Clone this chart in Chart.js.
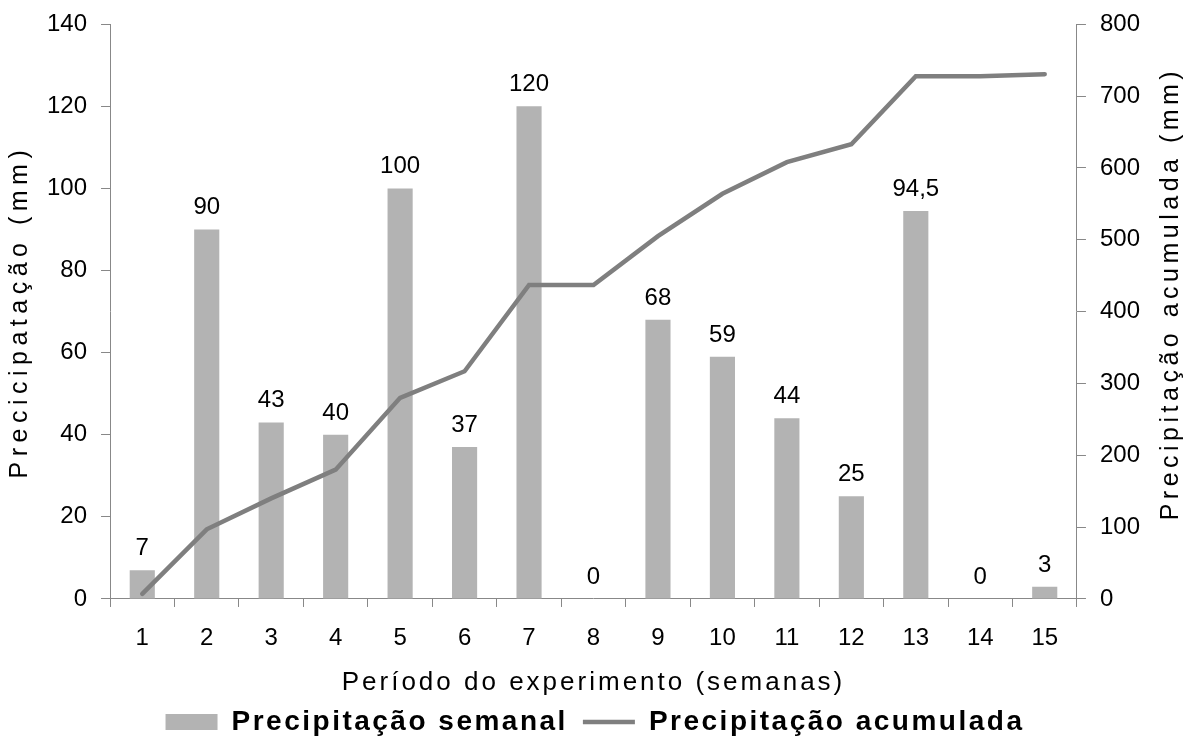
<!DOCTYPE html>
<html>
<head>
  <title>Precipitação semanal e acumulada</title>
  <script src="https://cdn.jsdelivr.net/npm/chart.js"></script>
  <style>
    html, body { margin: 0; padding: 0; background: #fff; }
    #wrap { width: 1187px; height: 742px; }
  </style>
</head>
<body>
  <div id="wrap">
    <canvas id="rainChart" width="1187" height="742"></canvas>
  </div>

  <script>
    // weeks of the experiment
    const weeks = ['1', '2', '3', '4', '5', '6', '7', '8', '9', '10', '11', '12', '13', '14', '15'];
    // weekly rainfall (mm), left axis
    const weeklyRain = [7, 90, 43, 40, 100, 37, 120, 0, 68, 59, 44, 25, 94.5, 0, 3];
    // accumulated rainfall (mm), right axis
    const accumulatedRain = [7, 97, 140, 180, 280, 317, 437, 437, 505, 564, 608, 633, 727.5, 727.5, 730.5];

    const leftTitle = 'Precicipatação (mm)';
    const rightTitle = 'Precipitação acumulada (mm)';
    const xTitle = 'Período do experimento (semanas)';

    const FONT = "'Liberation Sans', Arial, sans-serif";
    const AXIS_GREY = '#888888';

    // value labels above the bars
    const barLabels = {
      id: 'barLabels',
      afterDatasetsDraw(chart) {
        const ctx = chart.ctx;
        const meta = chart.getDatasetMeta(0);
        ctx.save();
        ctx.font = '24px ' + FONT;
        ctx.fillStyle = '#000';
        ctx.textAlign = 'center';
        ctx.textBaseline = 'alphabetic';
        meta.data.forEach((bar, i) => {
          const txt = String(weeklyRain[i]).replace('.', ',');
          ctx.fillText(txt, bar.x, bar.y - 15);
        });
        ctx.restore();
      }
    };

    // right axis title reads bottom-to-top like the left one
    const rightAxisTitle = {
      id: 'rightAxisTitle',
      afterDraw(chart) {
        const ctx = chart.ctx;
        const area = chart.chartArea;
        ctx.save();
        ctx.translate(chart.width - 16, (area.top + area.bottom) / 2 - 18);
        ctx.rotate(-Math.PI / 2);
        ctx.font = '25px ' + FONT;
        ctx.letterSpacing = '4.5px';
        ctx.fillStyle = '#000';
        ctx.textAlign = 'center';
        ctx.textBaseline = 'middle';
        ctx.fillText(rightTitle, 0, 0);
        ctx.restore();
      }
    };

    // the original text is drawn loosely spaced
    const spacing = {
      id: 'spacing',
      afterInit(chart) {
        const lg = chart.legend;
        ['fit', 'draw'].forEach(fn => {
          const orig = lg[fn];
          lg[fn] = function () {
            this.ctx.save();
            this.ctx.letterSpacing = '2.5px';
            if (fn === 'draw') this.ctx.translate(18, 0);
            const r = orig.apply(this, arguments);
            this.ctx.restore();
            return r;
          };
        });
      },
      beforeLayout(chart) {
        Object.values(chart.scales).forEach(s => {
          if (s._spaced) return;
          const orig = s.drawTitle;
          const sp = s.axis === 'x' ? '3px' : '5.5px';
          s.drawTitle = function () {
            this.ctx.save();
            this.ctx.letterSpacing = sp;
            orig.apply(this, arguments);
            this.ctx.restore();
          };
          s._spaced = true;
        });
      }
    };

    const ctx = document.getElementById('rainChart').getContext('2d');
    const chart = new Chart(ctx, {
      data: {
        labels: weeks,
        datasets: [
          {
            type: 'bar',
            label: 'Precipitação semanal',
            data: weeklyRain,
            backgroundColor: '#B3B3B3',
            borderWidth: 0,
            barPercentage: 0.39,
            categoryPercentage: 1,
            yAxisID: 'y',
            order: 1
          },
          {
            type: 'line',
            label: 'Precipitação acumulada',
            data: accumulatedRain,
            borderColor: '#7F7F7F',
            backgroundColor: '#7F7F7F',
            borderWidth: 4.5,
            borderCapStyle: 'round',
            pointRadius: 0,
            tension: 0,
            fill: false,
            yAxisID: 'y1',
            order: 0
          }
        ]
      },
      options: {
        responsive: false,
        animation: false,
        layout: { padding: { left: 0, right: 33, top: 13, bottom: -4 } },
        scales: {
          x: {
            offset: true,
            grid: { offset: true, drawOnChartArea: false, drawTicks: true, tickLength: 8, color: AXIS_GREY },
            border: { color: AXIS_GREY, width: 1 },
            ticks: { color: '#000', font: { family: FONT, size: 24, lineHeight: 1 }, padding: 19, maxRotation: 0 },
            title: {
              display: true,
              text: xTitle,
              color: '#000',
              font: { family: FONT, size: 26, lineHeight: 0.77 },
              padding: { top: 4, bottom: 0 }
            }
          },
          y: {
            position: 'left',
            min: 0,
            max: 140,
            ticks: { stepSize: 20, color: '#000', font: { family: FONT, size: 24, lineHeight: 0.85 }, padding: 14 },
            grid: { drawOnChartArea: false, drawTicks: true, tickLength: 9, color: AXIS_GREY },
            border: { color: AXIS_GREY, width: 1 },
            title: {
              display: true,
              text: leftTitle,
              color: '#000',
              font: { family: FONT, size: 25, lineHeight: 1 },
              padding: { top: 8, bottom: 0 }
            }
          },
          y1: {
            position: 'right',
            min: 0,
            max: 800,
            ticks: { stepSize: 100, color: '#000', font: { family: FONT, size: 24, lineHeight: 0.85 }, padding: 14 },
            grid: { drawOnChartArea: false, drawTicks: true, tickLength: 9, color: AXIS_GREY },
            border: { color: AXIS_GREY, width: 1 }
          }
        },
        plugins: {
          tooltip: { enabled: false },
          legend: {
            position: 'bottom',
            labels: {
              color: '#000',
              font: { family: FONT, size: 28, weight: 'bold', lineHeight: 1 },
              usePointStyle: true,
              pointStyleWidth: 52,
              boxHeight: 16,
              padding: 15,
              sort: (a, b) => a.datasetIndex - b.datasetIndex,
              generateLabels(c) {
                const items = Chart.defaults.plugins.legend.labels.generateLabels(c);
                items.forEach(it => {
                  if (it.datasetIndex === 0) {
                    it.pointStyle = 'rect';
                    it.lineWidth = 0;
                  } else {
                    it.pointStyle = 'line';
                    it.lineWidth = 4.5;
                    it.strokeStyle = '#7F7F7F';
                  }
                });
                return items;
              }
            }
          }
        }
      },
      plugins: [spacing, barLabels, rightAxisTitle]
    });
  </script>
</body>
</html>
